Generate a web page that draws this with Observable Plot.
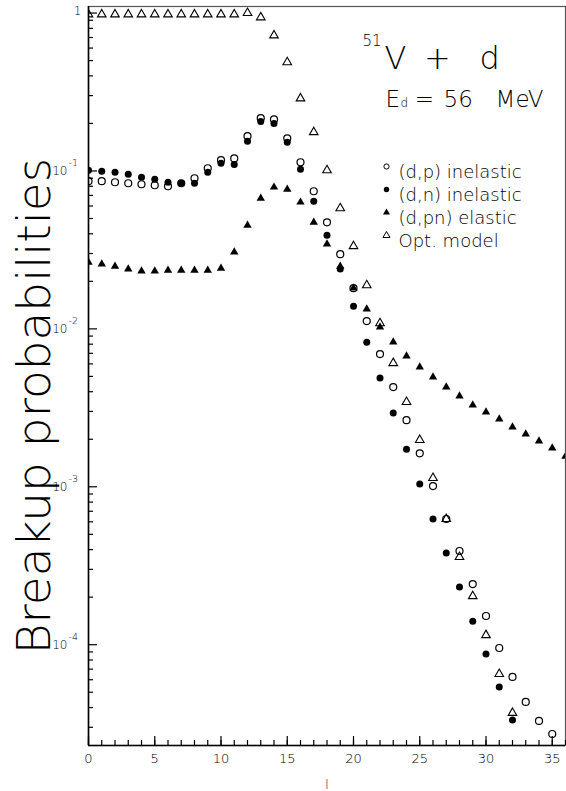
<!DOCTYPE html>
<html><head><meta charset="utf-8">
<script src="https://cdn.jsdelivr.net/npm/d3@7"></script>
<script src="https://cdn.jsdelivr.net/npm/@observablehq/plot@0.6"></script>
<style>
html,body{margin:0;padding:0;background:#fff;}
svg text{font-family:"DejaVu Sans",sans-serif;font-weight:200;}
</style></head><body><div id="chart"></div>
<script>
// ---- data ----
const lOpt = [0,1,2,3,4,5,6,7,8,9,10,11,12,13,14,15,16,17,18,19,20,21,22,23,24,25,26,27,28,29,30,31,32];
const optModel = [0.98,0.98,0.98,0.98,0.98,0.98,0.98,0.98,0.98,0.98,0.98,0.98,1.0,0.939,0.722,0.488,0.288,0.176,0.101,0.058,0.0334,0.0189,0.01086,0.00607,0.00344,0.00198,0.001136,0.000625,0.000359,0.000203,0.000115,6.52e-5,3.70e-5];

const lDp = [0,1,2,3,4,5,6,7,8,9,10,11,12,13,14,15,16,17,18,19,20,21,22,23,24,25,26,27,28,29,30,31,32,33,34,35];
const dpInel = [0.0861,0.0861,0.0848,0.0836,0.0824,0.0812,0.0800,0.0836,0.0899,0.104,0.117,0.120,0.166,0.216,0.212,0.161,0.1135,0.0744,0.0473,0.0297,0.0181,0.0112,0.00692,0.00428,0.00264,0.00163,0.00101,0.000625,0.000392,0.000242,0.000152,9.53e-5,6.25e-5,4.34e-5,3.29e-5,2.72e-5];

const lDn = [0,1,2,3,4,5,6,7,8,9,10,11,12,13,14,15,16,17,18,19,20,21,22,23,24,25,26,27,28,29,30,31,32];
const dnInel = [0.101,0.0996,0.0982,0.0953,0.0912,0.0887,0.0849,0.0836,0.0836,0.0982,0.112,0.110,0.154,0.206,0.200,0.152,0.1025,0.0643,0.0392,0.0239,0.0139,0.00824,0.00488,0.00293,0.00173,0.00104,0.000625,0.000381,0.000232,0.000141,8.73e-5,5.40e-5,3.34e-5];

const lDpn = [0,1,2,3,4,5,6,7,8,9,10,11,12,13,14,15,16,17,18,19,20,21,22,23,24,25,26,27,28,29,30,31,32,33,34,35,36];
const dpnEl = [0.0264,0.0257,0.0249,0.0239,0.0232,0.0232,0.0235,0.0235,0.0235,0.0235,0.0242,0.0306,0.0453,0.0671,0.0789,0.0766,0.0634,0.0473,0.0344,0.0249,0.0181,0.01333,0.01025,0.00824,0.00672,0.00572,0.00495,0.00428,0.00375,0.00329,0.00297,0.00268,0.00239,0.00216,0.00195,0.00176,0.00156];

const legendLabels = ["(d,p) inelastic", "(d,n) inelastic", "(d,pn) elastic", "Opt. model"];
const xMajor = [0,5,10,15,20,25,30,35];
const xMinor = [0,1,2,3,4,5,6,7,8,9,10,11,12,13,14,15,16,17,18,19,20,21,22,23,24,25,26,27,28,29,30,31,32,33,34,35,36];
const yMajor = [1, 0.1, 0.01, 0.001, 0.0001];
const yExpLabels = ["-1","-2","-3","-4"];
const yDomain = [2.3e-5, 1.1];
const xDomain = [0, 36];

// minor log ticks 2..9 per decade
const yMinor = [];
for (let e = -5; e <= 0; e++) for (let k = 2; k <= 9; k++) {
  const v = k * Math.pow(10, e);
  if (v >= yDomain[0] && v <= yDomain[1]) yMinor.push(v);
}

const pts = (ls, vs) => ls.map((l, i) => ({l, v: vs[i]}));
const FONT = "DejaVu Sans";
const W = 566, H = 791, ML = 88, MR = 1, MT = 6, MB = 46;
const FW = W - ML - MR, FH = H - MT - MB;

const legendSymbols = [
  {symbol: "circle", r: 2.6, stroke: "black", fill: "none"},
  {symbol: "circle", r: 2.7, stroke: "none", fill: "black"},
  {symbol: "triangle", r: 2.6, stroke: "none", fill: "black"},
  {symbol: "triangle", r: 2.6, stroke: "black", fill: "none"}
];
const legendMarks = legendLabels.flatMap((lab, i) => [
  Plot.dot([lab], {frameAnchor: "top-left", dx: 298, dy: 160 + 23 * i, strokeWidth: 1, ...legendSymbols[i]}),
  Plot.text([lab], {frameAnchor: "top-left", text: d => d, textAnchor: "start", dx: 310, dy: 159 + 23 * i, fontSize: 18, fill: "black", style: "letter-spacing:2.3px"})
]);

const chart = Plot.plot({
  width: W, height: H,
  marginLeft: ML, marginRight: MR, marginTop: MT, marginBottom: MB,
  x: {domain: xDomain, axis: null},
  y: {type: "log", domain: yDomain, axis: null},
  style: {fontFamily: FONT, background: "white", color: "black"},
  marks: [
    Plot.frame({stroke: "#555", strokeWidth: 1.2}),
    Plot.ruleX([xDomain[0]], {stroke: "black", strokeWidth: 1.6}),
    Plot.ruleY([yDomain[0]], {stroke: "black", strokeWidth: 1.6}),
    // inward ticks
    Plot.tickX(xMinor, {x: d => d, insetTop: FH - 5, stroke: "black", strokeWidth: 1.2}),
    Plot.tickX(xMajor, {x: d => d, insetTop: FH - 9, stroke: "black", strokeWidth: 1.2}),
    Plot.tickY(yMinor, {y: d => d, insetRight: FW - 5, stroke: "black", strokeWidth: 1.2}),
    Plot.tickY(yMajor, {y: d => d, insetRight: FW - 9, stroke: "black", strokeWidth: 1.2}),
    // x tick labels
    Plot.text(xMajor, {x: d => d, frameAnchor: "bottom", text: d => String(d), lineAnchor: "top", dy: 8, fontSize: 13, fill: "black"}),
    // y tick labels
    Plot.text([1], {y: d => d, frameAnchor: "left", text: () => "1", textAnchor: "end", dx: -7, dy: -2, fontSize: 12, fill: "black"}),
    Plot.text(yMajor.slice(1), {y: d => d, frameAnchor: "left", text: () => "10", textAnchor: "end", dx: -21, dy: 0, fontSize: 12, fill: "black"}),
    Plot.text(yMajor.slice(1), {y: d => d, frameAnchor: "left", text: (d, i) => yExpLabels[i], textAnchor: "start", dx: -20, dy: -8, fontSize: 9.5, fill: "black"}),
    // axis titles
    Plot.text(["Breakup probabilities"], {frameAnchor: "left", text: d => d, textAnchor: "middle", rotate: -90, dx: -54, dy: 30, fontSize: 47, fill: "black"}),
    Plot.text(["l"], {frameAnchor: "bottom", text: d => d, lineAnchor: "middle", dy: 40, fontSize: 12, fill: "black"}),
    // data
    Plot.dot(pts(lOpt, optModel), {x: "l", y: "v", symbol: "triangle", r: 3.2, stroke: "black", fill: "none", strokeWidth: 1.1, clip: true}),
    Plot.dot(pts(lDpn, dpnEl), {x: "l", y: "v", symbol: "triangle", r: 3.1, fill: "black", stroke: "none", clip: true}),
    Plot.dot(pts(lDp, dpInel), {x: "l", y: "v", symbol: "circle", r: 3.5, stroke: "black", fill: "none", strokeWidth: 1.2, clip: true}),
    Plot.dot(pts(lDn, dnInel), {x: "l", y: "v", symbol: "circle", r: 3.5, fill: "black", stroke: "none", clip: true}),
    // title
    Plot.text(["51"], {frameAnchor: "top-left", text: d => d, textAnchor: "start", dx: 274, dy: 29, fontSize: 15, fill: "black"}),
    Plot.text(["V"], {frameAnchor: "top-left", text: d => d, textAnchor: "start", dx: 296, dy: 40, fontSize: 32, fill: "black"}),
    Plot.text(["+"], {frameAnchor: "top-left", text: d => d, textAnchor: "middle", dx: 349, dy: 40, fontSize: 32, fill: "black"}),
    Plot.text(["d"], {frameAnchor: "top-left", text: d => d, textAnchor: "start", dx: 391, dy: 40, fontSize: 32, fill: "black"}),
    Plot.text(["E"], {frameAnchor: "top-left", text: d => d, textAnchor: "start", dx: 297, dy: 84, fontSize: 23, fill: "black"}),
    Plot.text(["d"], {frameAnchor: "top-left", text: d => d, textAnchor: "start", dx: 312, dy: 92, fontSize: 12, fill: "black"}),
    Plot.text(["="], {frameAnchor: "top-left", text: d => d, textAnchor: "middle", dx: 336, dy: 84, fontSize: 23, fill: "black"}),
    Plot.text(["56"], {frameAnchor: "top-left", text: d => d, textAnchor: "start", dx: 355, dy: 84, fontSize: 23, fill: "black"}),
    Plot.text(["MeV"], {frameAnchor: "top-left", text: d => d, textAnchor: "end", dx: 455, dy: 84, fontSize: 23, fill: "black"}),
    // legend
    ...legendMarks
  ]
});
document.getElementById("chart").appendChild(chart);
</script></body></html>
